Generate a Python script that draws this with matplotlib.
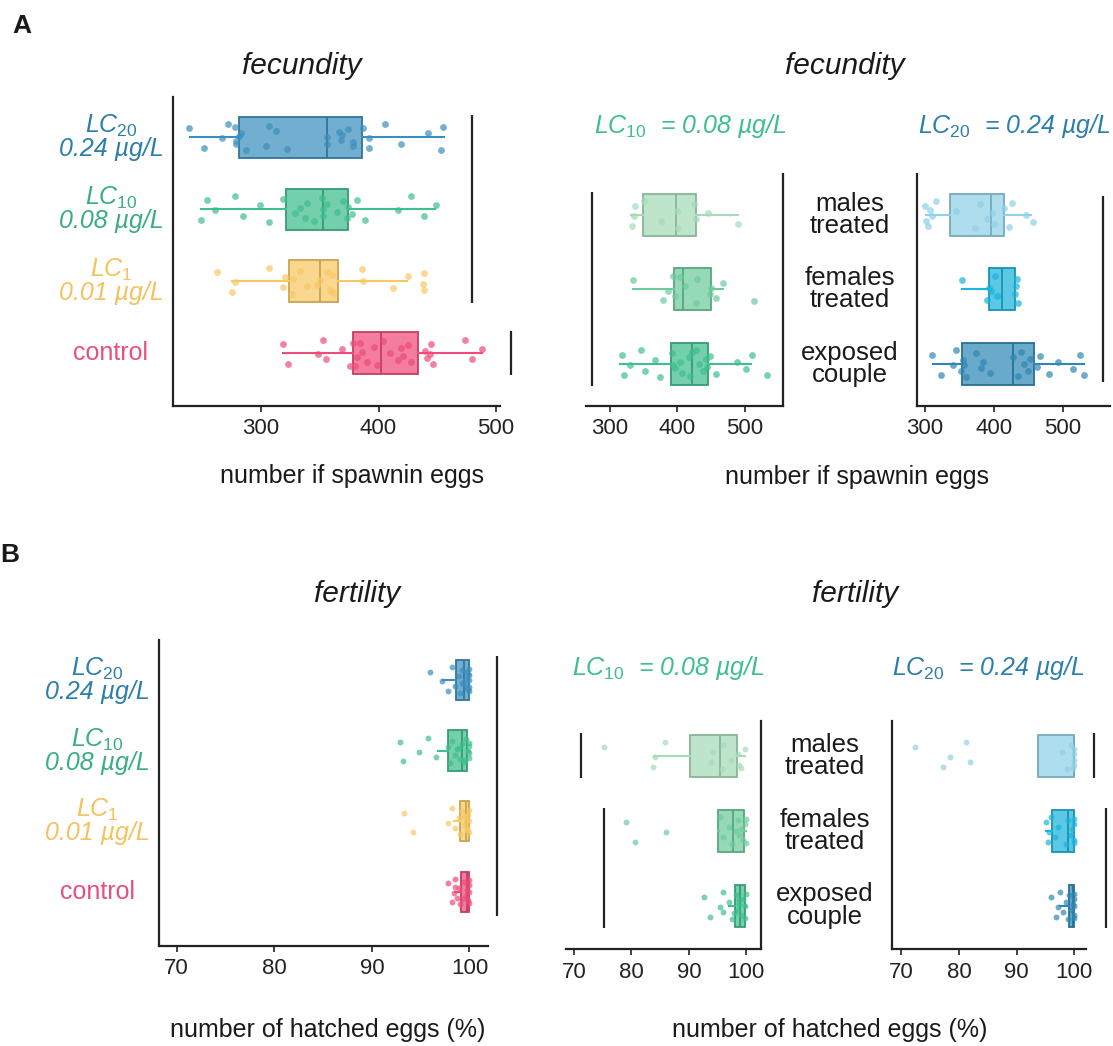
import matplotlib
matplotlib.use("Agg")
import matplotlib.pyplot as plt
from matplotlib.transforms import blended_transform_factory as btf

plt.rcParams['font.family'] = ['Liberation Sans', 'DejaVu Sans']
plt.rcParams['mathtext.fontset'] = 'custom'
plt.rcParams['mathtext.it'] = 'Liberation Sans:italic'
plt.rcParams['mathtext.rm'] = 'Liberation Sans'

# ---------------- DATA ----------------
# Panel A, left: fecundity by concentration (rows top -> bottom)
A1_groups = ["LC20", "LC10", "LC1", "control"]
A1_q1 = [281.3, 321.0, 323.8, 378.0]
A1_med = [356.0, 352.8, 350.0, 402.0]
A1_q3 = [386.0, 374.0, 365.5, 433.6]
A1_lo = [239.6, 249.0, 275.0, 318.7]
A1_hi = [455.7, 448.0, 424.0, 488.0]
A1_lc20 = [239, 251.5, 266.5, 272, 279, 282.7, 287, 278, 279, 281.5, 304, 312.5, 322, 307,
           356, 356, 366, 368, 374, 378, 368.7, 378, 387, 392, 392, 405.5, 419, 442, 453, 455]
A1_lc10 = [254.3, 249, 260.9, 277.9, 285, 299, 306.5, 319, 329, 333, 337.4, 338.9, 345, 351.6,
           352.4, 353, 356.4, 364.4, 370, 373, 374.3, 377, 381.4, 388.5, 416.9, 428, 438.7, 448.7]
A1_lc1 = [262.3, 275, 277.9, 307, 319, 320.4, 326, 333, 347.4, 350.2, 358.7, 360, 361.5, 385.7,
          386.5, 412.6, 425.4, 438, 438.6, 438.6, 327.5, 338.9, 356]
A1_ctrl = [318.4, 323.3, 348.8, 353, 355.3, 368.7, 375.7, 378, 381.4, 385.7, 390, 396.2, 398.5,
           404, 409.8, 416.9, 418.9, 421, 425.4, 427.4, 439.6, 441.6, 444.4, 446.6, 443.4, 473.6,
           479.3, 487.8, 380, 384.3]
A1_brk_x = [479.6, 512.8]
A1_brk_from = [0, 3]
A1_brk_to = [2, 3]

# Panel A, middle (LC10) and right (LC20): males treated / females treated / exposed couple
sex_groups = ["males\ntreated", "females\ntreated", "exposed\ncouple"]
A2_q1 = [349.3, 395.0, 390.0]
A2_med = [397.6, 408.4, 422.0]
A2_q3 = [427.0, 450.0, 446.0]
A2_lo = [332.0, 334.6, 315.4]
A2_hi = [489.0, 466.8, 508.6]
A2_males = [337, 333, 335.6, 350.8, 376.4, 399, 401.6, 424.6, 427, 445, 489]
A2_females = [334.6, 378.9, 386.4, 394, 396.6, 412, 427, 428.6, 447.6, 450, 457.6, 467.8, 513.6, 404]
A2_couple = [317.9, 321.9, 330.5, 345.8, 352.4, 367.7, 374.8, 391.6, 396.6, 404, 406.8, 417, 419.5,
             422, 432, 437.4, 442.4, 443.9, 447.6, 457.6, 488.2, 500.9, 510, 532.5, 394, 427]
A2_brk_x = [274.6]
A2_brk_from = [0]
A2_brk_to = [2]

A3_q1 = [336.3, 393.5, 353.8]
A3_med = [395.5, 412.0, 428.0]
A3_q3 = [414.4, 430.8, 458.0]
A3_lo = [302.5, 353.8, 312.4]
A3_hi = [454.2, 430.8, 530.0]
A3_males = [300, 305, 310, 315.9, 302.5, 344.8, 372, 379.6, 389.6, 397, 400.5, 414.4, 421.8, 426.9,
            446.8, 456.8, 307.4]
A3_females = [353.8, 389.6, 395.5, 402, 404.5, 431.8, 434.4, 433.4, 430.4, 393.6]
A3_couple = [311, 323.8, 340.8, 344.8, 352.2, 354.8, 359.7, 374.6, 382, 384.5, 394.5, 428.3, 434.4,
             439.3, 443.4, 449.3, 451.7, 461.7, 466.6, 479.2, 493, 514, 524.9, 530, 357.2]
A3_brk_x = [557.6]
A3_brk_from = [0]
A3_brk_to = [2]

# Panel B, left: fertility (%) by concentration
B1_q1 = [98.6, 97.8, 99.0, 99.15]
B1_med = [99.4, 99.2, 99.6, 99.7]
B1_q3 = [100.0, 99.7, 100.0, 100.0]
B1_lo = [97.3, 96.8, 98.4, 98.5]
B1_hi = [100.0, 100.0, 100.0, 100.0]
B1_lc20 = [96.0, 97.8, 97.2, 98.2, 98.5, 98.9, 99.0, 99.2, 99.4, 99.6, 99.7, 99.9, 100, 100, 100,
           100, 100, 99.2, 99.6, 99.9]
B1_lc10 = [92.9, 93.2, 94.8, 95.8, 96.6, 97.8, 98.0, 98.2, 98.5, 98.7, 99.0, 99.2, 99.4, 99.6,
           99.9, 100, 100, 100, 100, 99.4, 98.9]
B1_lc1 = [93.3, 94.2, 97.8, 98.2, 98.5, 98.9, 99.0, 99.2, 99.4, 99.6, 99.7, 99.9, 100, 100, 100,
          99.7, 99.4]
B1_ctrl = [97.8, 98.2, 98.4, 98.5, 98.7, 98.9, 99.0, 99.4, 99.6, 99.7, 99.9, 100, 100, 100, 100,
           99.2, 98.5]
B1_brk_x = [102.8]
B1_brk_from = [0]
B1_brk_to = [3]

B2_q1 = [90.2, 95.1, 98.1]
B2_med = [95.4, 97.7, 98.9]
B2_q3 = [98.4, 99.6, 99.7]
B2_lo = [84.0, 95.3, 97.0]
B2_hi = [99.8, 100.0, 100.0]
B2_males = [75.3, 83.8, 84.1, 85.9, 93.9, 94.2, 95.7, 96.0, 97.3, 98.5, 98.8, 99.7, 99.1]
B2_females = [79.0, 80.6, 86.0, 95.4, 95.9, 97.0, 97.6, 98.5, 98.8, 99.1, 99.4, 99.7, 100, 100, 98.2]
B2_couple = [92.7, 93.6, 95.4, 95.9, 96.0, 97.0, 97.6, 98.2, 98.5, 98.8, 99.1, 99.4, 99.7, 100,
             99.7, 97.9, 98.8]
B2_brk_x = [71.3, 75.3]
B2_brk_from = [0, 1]
B2_brk_to = [0, 2]

B3_q1 = [93.7, 96.2, 99.1]
B3_med = [100.0, 98.9, 99.8]
B3_q3 = [100.0, 100.0, 100.0]
B3_lo = [93.7, 95.1, 97.5]
B3_hi = [100.0, 100.0, 100.0]
B3_males = [72.4, 77.2, 78.4, 81.3, 81.9, 97.9, 98.8, 99.5, 100, 100, 100, 100, 99.8]
B3_females = [95.1, 95.4, 95.7, 96.0, 96.6, 97.2, 98.5, 98.9, 99.4, 99.7, 100, 100, 100, 100]
B3_couple = [96.0, 96.9, 97.2, 97.5, 98.1, 98.5, 98.9, 99.1, 99.5, 99.8, 100, 100, 100, 100, 100]
B3_brk_x = [103.5, 105.5]
B3_brk_from = [0, 1]
B3_brk_to = [0, 2]

# ---------------- STYLE ----------------
C_LC20 = "#3b8fbd"
C_LC10 = "#3fbf8d"
C_LC1 = "#f8c862"
C_CTRL = "#ee4b79"
C_M10, C_F10, C_E10 = "#a5dbb8", "#6ccb9c", "#3fbf8d"
C_M20, C_F20, C_E20 = "#8fd1e6", "#1cb3dc", "#2f88b4"
LBL_LC20 = "#2d7fab"
LBL_LC10 = "#3aae80"
LBL_LC1 = "#f4c25f"
LBL_CTRL = "#e8507f"

JIT = [-0.12, 0.15, 0.02, -0.18, 0.09, -0.05, 0.18, -0.14, 0.06, -0.02, 0.12, -0.09, 0.16,
       -0.16, 0.0, 0.1, -0.07, 0.04, -0.11, 0.13, -0.03, 0.07]

W, H = 1113, 1046
fig = plt.figure(figsize=(W / 100, H / 100), dpi=100)


def ax_at(x0, y0, x1, y1):
    return fig.add_axes([x0 / W, 1 - y1 / H, (x1 - x0) / W, (y1 - y0) / H])


def darker(c, f=0.82):
    r, g, b = matplotlib.colors.to_rgb(c)
    return (r * f, g * f, b * f)


def panel(ax, q1, med, q3, lo, hi, pts, colors, xlim, ylim, ticks, brk_x, brk_from, brk_to,
          spines=("left", "bottom"), width=0.57, ms=24, half=0.3):
    n = len(q1)
    stats = [dict(q1=q1[i], med=med[i], q3=q3[i], whislo=lo[i], whishi=hi[i], fliers=[])
             for i in range(n)]
    bp = ax.bxp(stats, positions=list(range(n)), widths=width, orientation='horizontal',
                patch_artist=True, showfliers=False, showcaps=False)
    for i in range(n):
        c = colors[i]
        ec = darker(c)
        bp['boxes'][i].set_facecolor(matplotlib.colors.to_rgba(c, 0.72))
        bp['boxes'][i].set_edgecolor(ec)
        bp['boxes'][i].set_linewidth(1.3)
        bp['medians'][i].set_color(ec)
        bp['medians'][i].set_linewidth(1.3)
        for w in bp['whiskers'][2 * i:2 * i + 2]:
            w.set_color(c)
            w.set_linewidth(1.5)
        vals = pts[i]
        ys = [i + JIT[k % len(JIT)] for k in range(len(vals))]
        ax.scatter(vals, ys, s=ms, color=c, alpha=0.7, linewidths=0, zorder=3)
    for bx, b0, b1 in zip(brk_x, brk_from, brk_to):
        ax.plot([bx, bx], [b0 - half, b1 + half], color="#222222", lw=1.6, clip_on=False,
                solid_capstyle='butt')
    ax.set_xlim(*xlim)
    ax.set_ylim(*ylim)
    ax.set_xticks(ticks)
    ax.set_yticks([])
    for s in ("left", "right", "top", "bottom"):
        ax.spines[s].set_visible(s in spines)
        ax.spines[s].set_linewidth(1.6)
        ax.spines[s].set_color("#222222")
    ax.tick_params(axis='x', length=4, width=1.2, pad=5, labelsize=16, colors="#222222")
    ax.patch.set_alpha(0)


# ---- Panel A ----
axA1 = ax_at(173, 97, 500, 406)
panel(axA1, A1_q1, A1_med, A1_q3, A1_lo, A1_hi, [A1_lc20, A1_lc10, A1_lc1, A1_ctrl],
      [C_LC20, C_LC10, C_LC1, C_CTRL], (225, 503.4), (3.736, -0.556), [300, 400, 500],
      A1_brk_x, A1_brk_from, A1_brk_to)

axA2 = ax_at(585.5, 174.4, 782.5, 405.8)
panel(axA2, A2_q1, A2_med, A2_q3, A2_lo, A2_hi, [A2_males, A2_females, A2_couple],
      [C_M10, C_F10, C_E10], (264.4, 555.4), (2.563, -0.541), [300, 400, 500],
      A2_brk_x, A2_brk_from, A2_brk_to, spines=("right", "bottom"), width=0.56)

axA3 = ax_at(917, 174.4, 1110, 405.8)
panel(axA3, A3_q1, A3_med, A3_q3, A3_lo, A3_hi, [A3_males, A3_females, A3_couple],
      [C_M20, C_F20, C_E20], (288.9, 567.8), (2.563, -0.541), [300, 400, 500],
      A3_brk_x, A3_brk_from, A3_brk_to, width=0.56, half=0.25)

# ---- Panel B ----
axB1 = ax_at(159, 640, 488, 946)
panel(axB1, B1_q1, B1_med, B1_q3, B1_lo, B1_hi, [B1_lc20, B1_lc10, B1_lc1, B1_ctrl],
      [C_LC20, C_LC10, C_LC1, C_CTRL], (68.2, 101.9), (3.769, -0.567), [70, 80, 90, 100],
      B1_brk_x, B1_brk_from, B1_brk_to, ms=18, half=0.34)

axB2 = ax_at(566, 720.7, 760.6, 949)
panel(axB2, B2_q1, B2_med, B2_q3, B2_lo, B2_hi, [B2_males, B2_females, B2_couple],
      [C_M10, C_F10, C_E10], (68.6, 102.5), (2.58, -0.467), [70, 80, 90, 100],
      B2_brk_x, B2_brk_from, B2_brk_to, spines=("right", "bottom"), width=0.56, ms=18, half=0.3)

axB3 = ax_at(891.5, 720.7, 1085.7, 949)
panel(axB3, B3_q1, B3_med, B3_q3, B3_lo, B3_hi, [B3_males, B3_females, B3_couple],
      [C_M20, C_F20, C_E20], (68.3, 102.0), (2.58, -0.467), [70, 80, 90, 100],
      B3_brk_x, B3_brk_from, B3_brk_to, width=0.56, ms=18, half=0.3)

# ---------------- TEXT ----------------
def fx(px):
    return px / W


def fy(py):
    return 1 - py / H


conc_labels = [r"$\mathit{LC}_{\mathit{20}}$" + "\n0.24 µg/L",
               r"$\mathit{LC}_{\mathit{10}}$" + "\n0.08 µg/L",
               r"$\mathit{LC}_{\mathit{1}}$" + "\n0.01 µg/L",
               "control"]
conc_colors = [LBL_LC20, LBL_LC10, LBL_LC1, LBL_CTRL]
conc_style = ["italic", "italic", "italic", "normal"]

for ax, xc in ((axA1, 111), (axB1, 97)):
    tr = btf(fig.transFigure, ax.transData)
    for i, (lab, col, st) in enumerate(zip(conc_labels, conc_colors, conc_style)):
        ax.text(fx(xc), i, lab, transform=tr, ha='center', va='center', color=col,
                fontsize=18, style=st, linespacing=0.9, multialignment='center')

for ax, xc in ((axA2, 850), (axB2, 825)):
    tr = btf(fig.transFigure, ax.transData)
    for i, lab in enumerate(sex_groups):
        ax.text(fx(xc), i, lab, transform=tr, ha='center', va='center', color="#1a1a1a",
                fontsize=18.5, linespacing=0.9, multialignment='center')

fig.text(fx(22), fy(26), "A", fontsize=19, fontweight='bold', ha='center', va='center',
         color="#1a1a1a")
fig.text(fx(10), fy(555), "B", fontsize=19, fontweight='bold', ha='center', va='center',
         color="#1a1a1a")

for x, y, t in ((302, 66, "fecundity"), (845, 66, "fecundity"),
                (357, 594, "fertility"), (855, 594, "fertility")):
    fig.text(fx(x), fy(y), t, fontsize=21.5, style='italic', ha='center', va='center',
             color="#1a1a1a")

sub10 = r"$\mathit{LC}_{\mathit{10}}$" + "  = 0.08 µg/L"
sub20 = r"$\mathit{LC}_{\mathit{20}}$" + "  = 0.24 µg/L"
for x, y, t, c in ((690, 126, sub10, C_LC10), (1014, 126, sub20, LBL_LC20),
                   (668, 668, sub10, C_LC10), (988, 668, sub20, LBL_LC20)):
    fig.text(fx(x), fy(y), t, fontsize=18, style='italic', ha='center', va='center', color=c)

for x, y, t in ((352, 476, "number if spawnin eggs"), (857, 477, "number if spawnin eggs"),
                (328, 1030, "number of hatched eggs (%)"),
                (830, 1030, "number of hatched eggs (%)")):
    fig.text(fx(x), fy(y), t, fontsize=18, ha='center', va='center', color="#1a1a1a")

fig.savefig("out.png", dpi=100)
